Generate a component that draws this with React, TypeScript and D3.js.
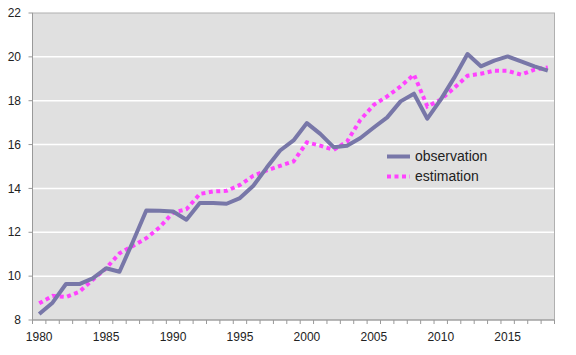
import React from "react";
import * as d3 from "d3";

const years: number[] = d3.range(1980, 2019);
const observation: number[] = [
  8.27, 8.79, 9.64, 9.64, 9.9, 10.36, 10.2, 11.57, 12.99, 12.98, 12.95, 12.57, 13.33,
  13.33, 13.3, 13.56, 14.12, 14.95, 15.73, 16.19, 16.98, 16.49, 15.88, 15.95, 16.3, 16.78,
  17.24, 17.97, 18.32, 17.18, 18.05, 19.04, 20.13, 19.57, 19.83, 20.02, 19.79, 19.57, 19.37,
];
const estimation: number[] = [
  8.76, 9.1, 9.05, 9.29, 9.83, 10.36, 11.04, 11.38, 11.73, 12.23, 12.9, 13.05, 13.75,
  13.86, 13.89, 14.16, 14.58, 14.82, 15.03, 15.23, 16.1, 15.95, 15.76, 16.14, 17.13, 17.81,
  18.2, 18.65, 19.19, 17.74, 18.05, 18.58, 19.14, 19.23, 19.37, 19.36, 19.19, 19.42, 19.52,
];
const yTicks: number[] = [8, 10, 12, 14, 16, 18, 20, 22];
const xLabels: number[] = [1980, 1985, 1990, 1995, 2000, 2005, 2010, 2015];
const seriesNames: string[] = ["observation", "estimation"];

export default function App() {
  const W = 576, H = 355;
  const left = 32.5, right = 554.5, top = 13, bottom = 320;
  const x = d3.scaleBand<number>().domain(years).range([left, right]);
  const y = d3.scaleLinear().domain([8, 22]).range([bottom, top]);
  const cx = (yr: number) => (x(yr) as number) + x.bandwidth() / 2;
  const line = d3.line<number>().x((_, i) => cx(years[i])).y((d) => y(d));
  const font = "'Liberation Sans', Arial, sans-serif";
  const obsColor = "#7877a8";
  const estColor = "#ff42ff";
  const boundaries = years.map((yr) => x(yr) as number).concat([right]);
  return (
    <svg width={W} height={H} style={{ position: "absolute", left: 0, top: 0 }} fontFamily={font}>
      <rect x={left} y={top} width={right - left} height={bottom - top} fill="#e0e0e0" />
      {yTicks.filter((t) => t > 8 && t < 22).map((t) => (
        <line key={t} x1={left} x2={right} y1={y(t)} y2={y(t)} stroke="#ffffff" strokeWidth={1.5} />
      ))}
      <rect x={left} y={top} width={right - left} height={bottom - top} fill="none" stroke="#b0b0b0" strokeWidth={1} />
      <line x1={left} x2={left} y1={top} y2={bottom} stroke="#999" strokeWidth={1} />
      <line x1={left} x2={right} y1={bottom} y2={bottom} stroke="#999" strokeWidth={1} />
      {yTicks.map((t) => (
        <g key={t}>
          <line x1={left - 4} x2={left} y1={y(t)} y2={y(t)} stroke="#999" />
          <text x={21} y={y(t)} dy="0.35em" textAnchor="end" fontSize={12} fill="#222">{t}</text>
        </g>
      ))}
      {boundaries.map((b, i) => (
        <line key={i} x1={b} x2={b} y1={bottom} y2={bottom + 4} stroke="#999" />
      ))}
      {xLabels.map((yr) => (
        <text key={yr} x={cx(yr)} y={337} dy="0.35em" textAnchor="middle" fontSize={12} fill="#222">{yr}</text>
      ))}
      <path d={line(estimation) || ""} fill="none" stroke={estColor} strokeWidth={4} strokeDasharray="4 3.5" />
      <path d={line(observation) || ""} fill="none" stroke={obsColor} strokeWidth={4} strokeLinejoin="round" />
      <g>
        <line x1={387} x2={410} y1={156.5} y2={156.5} stroke={obsColor} strokeWidth={4} />
        <text x={415} y={156.5} dy="0.35em" fontSize={14} fill="#222">{seriesNames[0]}</text>
        <line x1={387} x2={410} y1={176.5} y2={176.5} stroke={estColor} strokeWidth={4} strokeDasharray="4 3.5" />
        <text x={415} y={176.5} dy="0.35em" fontSize={14} fill="#222">{seriesNames[1]}</text>
      </g>
    </svg>
  );
}
